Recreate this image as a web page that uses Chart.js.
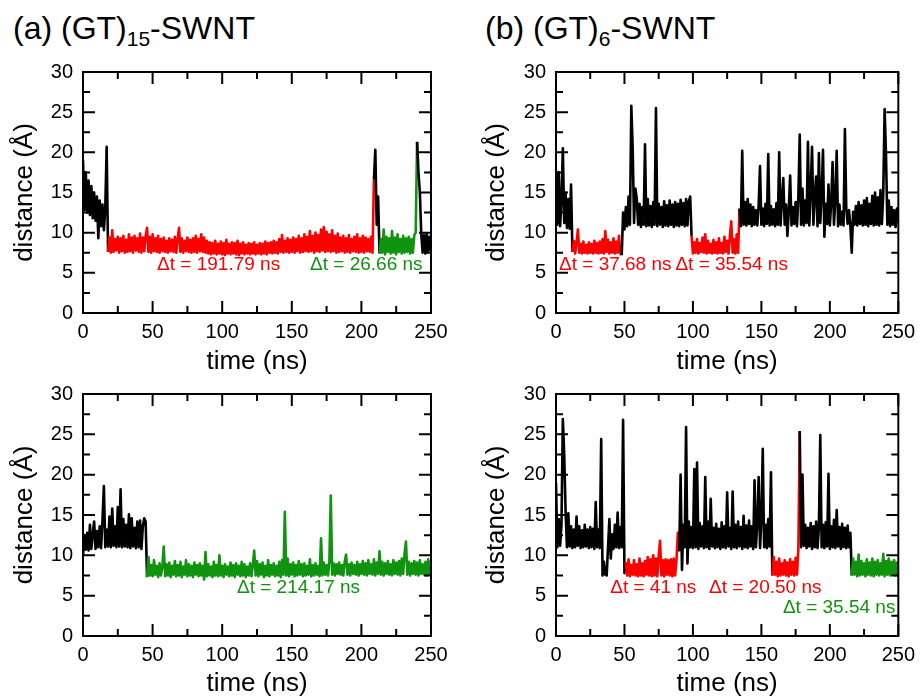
<!DOCTYPE html>
<html lang="en">
<head>
<meta charset="UTF-8" />
<title>Distance vs time</title>
<style>
  html, body { margin: 0; padding: 0; background: #fff; overflow: hidden; }
  body { width: 922px; height: 697px; position: relative; font-family: 'Liberation Sans', Arial, sans-serif; }
  canvas { position: absolute; }
  .title { position: absolute; font-size: 32px; line-height: 32px; white-space: nowrap; color: #000; }
  .title span { font-size: 21px; line-height: 1; vertical-align: -7px; }
</style>
</head>
<body>

<div class="title" style="left:13px; top:12px;">(a) (GT)<span>15</span>-SWNT</div>
<div class="title" style="left:485px; top:12px;">(b) (GT)<span>6</span>-SWNT</div>

<canvas id="cA" width="460" height="330" style="left:0; top:50px;"></canvas>
<canvas id="cB" width="449" height="330" style="left:473px; top:50px;"></canvas>
<canvas id="cC" width="460" height="330" style="left:0; top:372px;"></canvas>
<canvas id="cD" width="449" height="330" style="left:473px; top:372px;"></canvas>

<script src="https://cdn.jsdelivr.net/npm/chart.js"></script>
<script>
  const STEP = 1; // ns between samples

  // axis ticks
  const xTicks = [0, 50, 100, 150, 200, 250];
  const xMinor = [25, 75, 125, 175, 225];
  const yTicks = [0, 5, 10, 15, 20, 25, 30];
  const yMinor = [2.5, 7.5, 12.5, 17.5, 22.5, 27.5];

  const BLACK = '#000000', RED = '#ff0000', GREEN = '#109410';

  // ---- (a) (GT)15, top ----
  const aBlack1 = [19, 12.8, 17.5, 12.5, 16.5, 12.2, 15.8, 11.8, 15, 11.5, 14.5, 9.3, 14, 10.8, 13.5, 10.3, 13, 20.7];
  const aRed = [
    7.6, 9.4, 7.5, 10.3, 7.6, 9.2, 7.8, 9.5, 7.5, 9.3,
    7.7, 9.6, 7.5, 9.1, 7.6, 9.8, 7.7, 9.4, 7.5, 9.6,
    7.8, 9.3, 7.6, 9.9, 7.5, 9.4, 7.7, 9.6, 10.6, 7.6,
    9.5, 7.5, 9.8, 7.7, 9.3, 7.6, 9.6, 7.5, 9.2, 7.7,
    9.4, 7.6, 9.0, 7.5, 9.3, 7.7, 9.1, 7.6, 9.5, 7.5,
    9.2, 10.6, 7.6, 9.3, 7.5, 9.0, 7.7, 9.4, 7.6, 9.1,
    7.5, 9.3, 7.6, 9.6, 7.5, 9.2, 7.7, 9.8, 7.6, 9.4,
    7.5, 9.0, 7.4, 8.8, 7.3, 8.7, 7.4, 9.0, 7.3, 8.6,
    7.4, 8.9, 7.3, 8.7, 7.2, 9.1, 7.4, 8.6, 7.3, 8.8,
    7.4, 8.7, 7.3, 9.0, 7.2, 8.6, 7.4, 8.8, 7.3, 8.5,
    7.4, 8.7, 7.3, 8.6, 7.4, 8.8, 7.3, 8.5, 7.4, 8.7,
    7.3, 8.6, 7.4, 8.9, 7.3, 8.7, 7.5, 8.8, 7.4, 9.0,
    7.5, 8.8, 7.4, 9.2, 7.6, 9.7, 7.5, 9.0, 7.6, 9.3,
    7.5, 9.1, 7.6, 9.4, 7.5, 9.2, 7.7, 9.6, 7.5, 9.3,
    7.6, 9.8, 7.7, 9.5, 7.6, 10.2, 7.7, 9.6, 7.5, 10.0,
    7.7, 9.7, 7.6, 10.4, 7.8, 10.7, 7.6, 10.1, 7.7, 9.8,
    7.6, 10.3, 7.7, 9.6, 7.5, 9.9, 7.6, 9.4, 7.7, 9.6,
    7.5, 9.3, 7.6, 9.7, 7.5, 9.2, 7.7, 9.5, 7.6, 9.8,
    7.5, 9.3, 7.6, 9.6, 7.5, 9.4, 7.7, 9.2, 7.6, 9.5,
    7.5
  ];
  const aBlack2 = [16.6, 20.3, 11, 14.5];
  const aGreen = [
    7.4, 9.2, 7.5, 10.4, 7.3, 9.5, 7.6, 9.3, 7.4, 10.2,
    7.5, 9.4, 7.3, 9.8, 7.6, 9.2, 7.4, 9.6, 7.5, 9.3,
    7.6, 9.5, 7.4, 9.2, 7.5, 9.7, 10.0
  ];
  const aBlack3 = [21.3, 17.5, 15, 9.8, 7.5, 9.7, 7.4, 9.9, 7.6, 9.5, 7.8];

  // ---- (b) (GT)6, top ----
  const bBlack1 = [17.8, 11, 17.5, 10.8, 14, 20.5, 11.2, 15, 10.6, 14.2, 10.5, 16];
  const bRed1 = [
    7.6, 9.0, 7.4, 8.8, 10.4, 7.5, 8.6, 7.4, 8.9, 7.5,
    8.5, 7.4, 8.8, 7.5, 8.6, 7.4, 9.0, 7.5, 8.7, 7.4,
    8.9, 7.5, 9.2, 7.4, 10.2, 7.6, 9.1, 7.4, 8.8, 7.5,
    9.3, 7.4, 8.9, 7.5, 9.6, 7.4
  ];
  const bBlack2 = [
    7.2, 12.5, 10.4, 13.2, 10.8, 14.5, 11, 25.8, 20.6, 11.2,
    15.5, 14.2, 11, 13.6, 10.7, 13.2, 11, 21, 10.8, 14.2,
    10.9, 13.3, 10.7, 13.8, 11, 25.5, 10.8, 13.6, 11, 13.2,
    10.7, 13.9, 10.9, 13.4, 10.8, 14, 11, 13.5, 10.7, 13.8,
    10.9, 13.6, 10.8, 14.1, 11, 13.7, 10.8, 14.2, 10.9, 13.9, 14.5
  ];
  const bRed2 = [
    9.6, 7.4, 8.8, 7.5, 9.2, 7.4, 8.7, 7.6, 9.4, 7.5,
    9.8, 7.4, 9.0, 7.5, 8.6, 7.4, 9.1, 7.5, 8.8, 7.4,
    9.3, 7.5, 8.7, 7.4, 9.5, 7.6, 9.0, 7.4, 9.6, 11.4,
    7.5, 9.2, 7.4, 9.8, 7.5
  ];
  const bBlack3 = [
    13, 10.8, 20.2, 11, 13.8, 10.9, 14.2, 11.1, 13.5, 10.8,
    13.2, 11, 12.8, 10.9, 13.4, 18.3, 11, 13, 10.8, 13.6,
    11.1, 19.8, 10.9, 13.3, 11, 12.9, 10.8, 13.7, 11, 20,
    10.9, 14, 16.8, 11, 13.5, 9.6, 12.8, 17.1, 10.9, 13.2,
    11.1, 13.8, 10.8, 14.5, 22.2, 11, 15.5, 10.9, 14, 11.2,
    21.3, 10.9, 15.2, 20.7, 11, 14.6, 17, 10.8, 19.9, 11.2,
    14.8, 20.3, 9.5, 13.6, 11.1, 16, 10.9, 13.8, 18.8, 11,
    14.2, 20.2, 10.8, 13.5, 11, 12.6, 10.9, 22.9, 13, 11.1,
    12.8, 10.8, 7.5, 12.6, 11, 13.3, 10.9, 13.8, 11.1, 13.4,
    10.9, 14, 11, 14.3, 10.8, 13.6, 11.1, 14.6, 10.9, 15,
    11, 14.4, 10.9, 15.3, 11.1, 14.8, 25.4, 19.8, 11, 14,
    10.8, 13.2, 11, 12.8, 10.7, 13, 11.2
  ];

  // ---- (a) bottom ----
  const cBlack = [
    10, 12.5, 10.7, 12.8, 10.6, 13.8, 10.8, 12.6, 14.2, 10.8,
    13, 11, 13.6, 10.9, 14.4, 18.6, 11, 13.2, 11.1, 14.8,
    11, 15.8, 11.2, 13.6, 11, 16, 11.1, 18.2, 11, 14.5,
    11.1, 13.8, 11, 15.1, 10.9, 14.6, 11.1, 13.4, 10.9, 14.2,
    11, 14.3, 10.8, 13.6, 14.6, 14.2
  ];
  const cGreen = [
    7.3, 9.8, 7.5, 8.8, 7.4, 9.4, 7.6, 8.7, 7.3, 9.0,
    7.5, 8.6, 11.1, 7.4, 8.9, 7.5, 9.1, 7.3, 8.7, 7.6,
    9.3, 7.4, 8.8, 7.5, 9.2, 7.3, 8.6, 7.6, 9.4, 7.4,
    8.9, 7.5, 8.7, 7.3, 9.1, 7.6, 8.8, 7.4, 9.0, 7.5,
    8.7, 7.0, 10.4, 7.4, 8.9, 7.5, 8.6, 7.3, 9.2, 7.5,
    8.8, 7.4, 10.0, 7.5, 8.7, 7.3, 8.9, 7.6, 8.6, 7.4,
    9.1, 7.5, 8.8, 7.3, 9.0, 7.6, 8.7, 7.4, 9.2, 7.5,
    8.9, 7.3, 8.6, 7.5, 9.0, 7.4, 8.8, 10.6, 7.5, 9.3,
    7.4, 8.9, 7.6, 9.1, 7.3, 8.7, 7.5, 9.4, 7.4, 8.8,
    7.6, 9.0, 7.4, 8.7, 7.5, 9.2, 7.3, 9.4, 7.6, 15.4,
    7.5, 9.6, 7.4, 8.9, 7.6, 9.1, 7.4, 8.8, 7.5, 9.3,
    7.6, 8.9, 7.4, 9.0, 7.5, 8.7, 7.6, 9.5, 7.4, 8.8,
    7.5, 9.0, 7.6, 8.7, 7.4, 12.1, 7.5, 9.1, 7.6, 8.8,
    7.5, 9.2, 17.4, 7.6, 9.0, 7.5, 8.9, 7.7, 9.1, 7.6,
    8.8, 7.5, 9.2, 10.1, 7.6, 8.9, 7.5, 9.1, 7.7, 8.8,
    7.6, 9.2, 7.5, 8.9, 7.7, 9.3, 7.6, 9.0, 7.5, 9.4,
    7.7, 8.9, 7.6, 9.5, 7.5, 9.1, 7.7, 10.5, 7.6, 9.2,
    7.5, 9.0, 7.7, 9.3, 7.6, 8.9, 7.5, 9.4, 7.7, 9.1,
    7.6, 9.3, 7.5, 9.6, 7.7, 10.2, 11.7, 7.6, 9.2, 7.5,
    9.0, 7.7, 9.3, 7.6, 9.1, 7.5, 9.4, 7.7, 8.9, 7.6,
    9.2, 7.5, 9.5, 7.7, 9.3
  ];

  // ---- (b) bottom ----
  const dBlack1 = [
    19, 11, 14.5, 11.2, 13.8, 26.9, 22.5, 15.5, 11, 15.2,
    11.1, 13.6, 10.9, 13.2, 11, 14.8, 11.2, 13.6, 10.9, 13.1,
    11, 13.8, 11.1, 13.2, 10.9, 13.5, 11, 13.3, 10.8, 16.6,
    11, 13.2, 10.9, 24.4, 7.5, 9.2, 7.6, 7.5, 11, 14.5,
    9.6, 12.6, 10.8, 13.8, 11, 15.3, 10.9, 13.5, 11, 26.8,
    7.8
  ];
  const dRed1 = [
    9.2, 7.5, 9.5, 7.4, 8.8, 7.6, 9.4, 7.5, 8.9, 7.4,
    9.6, 7.5, 9.0, 7.4, 9.3, 7.6, 9.8, 7.5, 9.5, 7.4,
    10.0, 7.5, 9.6, 7.4, 9.9, 11.8, 7.5, 9.4, 7.4, 9.5,
    7.6, 9.4, 7.5, 9.5, 7.4, 9.6, 7.5, 9.5, 12.8
  ];
  const dBlack2 = [
    10.5, 20, 8.2, 13.8, 11, 25.9, 9, 14.2, 11, 13.5,
    10.9, 20.7, 11, 21.5, 10.8, 14, 11.1, 13.6, 10.9, 19.7,
    11, 14.2, 10.8, 17, 11.1, 13.4, 10.9, 13.9, 11, 13.3,
    10.8, 14.1, 11, 13.6, 10.9, 17.8, 11.1, 13.4, 10.8, 17.9,
    11, 13.8, 10.9, 14.2, 11.1, 13.5, 10.8, 14.9, 11, 13.7,
    10.9, 14.3, 11.1, 13.6, 10.8, 19.3, 11, 14, 19.7, 10.9,
    14.4, 23.2, 11, 13.8, 10.9, 14.5, 11.1, 20.3
  ];
  const dRed2 = [
    7.5, 9.8, 7.6, 9.2, 7.4, 9.6, 7.5, 9.0, 7.6, 9.4,
    7.5, 9.1, 7.4, 9.5, 7.6, 9.2, 7.5, 9.7, 7.6, 10.8
  ];
  const dBlack3 = [
    25.4, 11, 20, 11.2, 13.8, 10.9, 13.4, 11.1, 14, 10.8,
    13.6, 11, 14.2, 10.9, 13.5, 24.9, 11, 13.8, 10.9, 14.1,
    11.1, 20.1, 10.8, 13.6, 11, 14.4, 10.9, 15.6, 11.1, 13.5,
    10.8, 13.9, 11, 13.4, 10.9, 13.7, 11, 12.8
  ];
  const dGreen = [
    7.5, 9.6, 7.6, 9.2, 7.4, 10.1, 7.5, 9.3, 7.6, 9.0,
    7.4, 9.5, 7.6, 9.1, 7.5, 9.6, 7.4, 9.2, 7.6, 9.4,
    7.5, 9.0, 7.6, 10.2, 7.4, 9.3, 7.6, 9.6, 7.5, 9.2,
    7.6, 9.4, 7.5, 9.1, 7.7
  ];

  // Δt labels: text, time, distance, colour
  const notesA = [['Δt = 191.79 ns', 53.2, 5.95, RED], ['Δt = 26.66 ns', 163.1, 5.95, GREEN]];
  const notesB = [['Δt = 37.68 ns', 2.2, 5.95, RED], ['Δt = 35.54 ns', 87.2, 5.95, RED]];
  const notesC = [['Δt = 214.17 ns', 110.6, 5.93, GREEN]];
  const notesD = [['Δt = 41 ns', 39.6, 5.93, RED], ['Δt = 20.50 ns', 111.7, 5.93, RED], ['Δt = 35.54 ns', 165.7, 3.46, GREEN]];

  const FONT = "'Liberation Sans', Arial, sans-serif";

  // frame + inward ticks on all four sides
  const frameTicks = {
    id: 'frameTicks',
    afterDraw(chart) {
      const { ctx, chartArea: a, scales: { x, y } } = chart;
      ctx.save();
      ctx.strokeStyle = '#000';
      ctx.lineWidth = 2;
      ctx.strokeRect(a.left, a.top, a.right - a.left, a.bottom - a.top);
      ctx.beginPath();
      const tx = (v, len) => {
        const p = x.getPixelForValue(v);
        ctx.moveTo(p, a.bottom); ctx.lineTo(p, a.bottom - len);
        ctx.moveTo(p, a.top); ctx.lineTo(p, a.top + len);
      };
      const ty = (v, len) => {
        const p = y.getPixelForValue(v);
        ctx.moveTo(a.left, p); ctx.lineTo(a.left + len, p);
        ctx.moveTo(a.right, p); ctx.lineTo(a.right - len, p);
      };
      xTicks.forEach(v => tx(v, 12));
      xMinor.forEach(v => tx(v, 7));
      yTicks.forEach(v => ty(v, 12));
      yMinor.forEach(v => ty(v, 7));
      ctx.stroke();
      ctx.restore();
    }
  };

  function makePanel(canvasId, segs, notes, box) {
    const pts = [], cols = [];
    let t = 0;
    segs.forEach(([col, vals]) => {
      vals.forEach(v => { pts.push({ x: t, y: v }); cols.push(col); t += STEP; });
    });

    const notesPlugin = {
      id: 'notes',
      afterDraw(chart) {
        const { ctx, scales: { x, y } } = chart;
        ctx.save();
        ctx.font = '19px ' + FONT;
        ctx.textAlign = 'left';
        ctx.textBaseline = 'middle';
        notes.forEach(([txt, tv, dv, col]) => {
          ctx.fillStyle = col;
          ctx.fillText(txt, x.getPixelForValue(tv), y.getPixelForValue(dv));
        });
        ctx.restore();
      }
    };

    new Chart(document.getElementById(canvasId), {
      type: 'line',
      data: {
        datasets: [{
          data: pts,
          borderColor: BLACK,
          borderWidth: 2.6,
          pointRadius: 0,
          tension: 0,
          borderJoinStyle: 'round',
          segment: { borderColor: c => cols[c.p0DataIndex] }
        }]
      },
      options: {
        responsive: false,
        animation: false,
        events: [],
        layout: { padding: { top: 21, right: box.right, left: 0, bottom: 0 } },
        plugins: { legend: { display: false }, tooltip: { enabled: false } },
        scales: {
          x: {
            type: 'linear', min: 0, max: 250,
            grid: { display: false, drawTicks: false },
            border: { display: false },
            afterBuildTicks: s => { s.ticks = xTicks.map(v => ({ value: v })); },
            afterFit: s => { s.height = box.xh; },
            ticks: { font: { family: FONT, size: 20 }, color: '#000', padding: 7, maxRotation: 0, autoSkip: false },
            title: { display: true, text: 'time (ns)', color: '#000', font: { family: FONT, size: 26, lineHeight: 1 }, padding: { top: 0, bottom: 5 } }
          },
          y: {
            type: 'linear', min: 0, max: 30,
            grid: { display: false, drawTicks: false },
            border: { display: false },
            afterBuildTicks: s => { s.ticks = yTicks.map(v => ({ value: v })); },
            afterFit: s => { s.width = 83; },
            ticks: { font: { family: FONT, size: 20 }, color: '#000', padding: 10 },
            title: { display: true, text: 'distance (Å)', color: '#000', font: { family: FONT, size: 26, lineHeight: 1 }, padding: { top: box.ytitle, bottom: 0 } }
          }
        }
      },
      plugins: [frameTicks, notesPlugin]
    });
  }

  makePanel('cA', [[BLACK, aBlack1], [RED, aRed], [BLACK, aBlack2], [GREEN, aGreen], [BLACK, aBlack3]],
    notesA, { right: 29, xh: 67, ytitle: 12 });
  makePanel('cB', [[BLACK, bBlack1], [RED, bRed1], [BLACK, bBlack2], [RED, bRed2], [BLACK, bBlack3]],
    notesB, { right: 19, xh: 67, ytitle: 11 });
  makePanel('cC', [[BLACK, cBlack], [GREEN, cGreen]],
    notesC, { right: 29, xh: 66, ytitle: 12 });
  makePanel('cD', [[BLACK, dBlack1], [RED, dRed1], [BLACK, dBlack2], [RED, dRed2], [BLACK, dBlack3], [GREEN, dGreen]],
    notesD, { right: 19, xh: 66, ytitle: 11 });
</script>

</body>
</html>
